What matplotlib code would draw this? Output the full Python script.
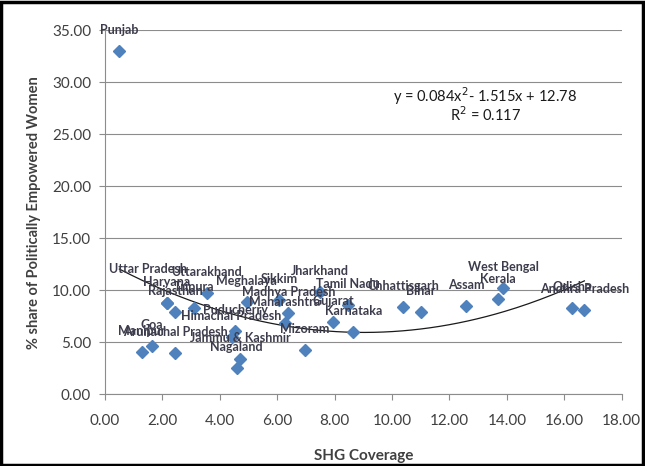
import matplotlib
matplotlib.use("Agg")
import matplotlib.pyplot as plt
import matplotlib.patches as mpatches
import numpy as np

plt.rcParams['font.family'] = ['Lato', 'DejaVu Sans']

states = ["Punjab", "Uttar Pradesh", "Uttarakhand", "Haryana", "Rajasthan", "Tripura",
          "Meghalaya", "Sikkim", "Jharkhand", "Madhya Pradesh", "Maharashtra", "Tamil Nadu",
          "Gujarat", "Karnataka", "Chhattisgarh", "Bihar", "Assam", "West Bengal", "Kerala",
          "Odisha", "Andhra Pradesh", "Puducherry", "Himachal Pradesh", "Goa", "Manipur",
          "Arunachal Pradesh", "Jammu & Kashmir", "Nagaland", "Mizoram"]
shg_coverage = [0.50, 2.17, 3.54, 2.15, 2.44, 3.11,
                4.94, 6.07, 7.49, 6.39, 6.27, 8.46,
                7.95, 8.65, 10.39, 11.00, 12.58, 13.88, 13.70,
                16.28, 16.70, 4.53, 4.41, 1.63, 1.28,
                2.44, 4.70, 4.59, 6.97]
women_share = [33.01, 8.80, 9.71, 8.75, 7.94, 8.27,
               8.90, 9.07, 9.87, 7.79, 6.83, 8.59,
               6.92, 5.96, 8.42, 7.94, 8.52, 10.19, 9.13,
               8.27, 8.11, 6.12, 5.54, 4.64, 4.04,
               3.94, 3.37, 2.50, 4.26]

# label offsets (points) from each marker; default is centered above
label_offsets = {"Uttar Pradesh": (-14, 24.5)}

# trendline coefficients as shown on the chart
coef_a, coef_b, coef_c = 0.084, -1.515, 12.78
r_squared = 0.117

x_ticks = [0, 2, 4, 6, 8, 10, 12, 14, 16, 18]
y_ticks = [0, 5, 10, 15, 20, 25, 30, 35]

fig = plt.figure(figsize=(6.45, 4.66), dpi=100)
ax = fig.add_axes([105/645, 71.7/466, (621.7-105)/645, (394.3-30.3)/466])

grid_c = '#8c8c8c'
text_c = '#404040'

ax.set_xlim(0, 18)
ax.set_ylim(0, 35)
ax.set_xticks(x_ticks)
ax.set_yticks(y_ticks)
ax.set_xticklabels([f"{v:.2f}" for v in x_ticks])
ax.set_yticklabels([f"{v:.2f}" for v in y_ticks])
ax.grid(axis='y', color=grid_c, lw=0.8, zorder=0)
ax.set_axisbelow(True)
for s in ['top', 'right']:
    ax.spines[s].set_visible(False)
for s in ['left', 'bottom']:
    ax.spines[s].set_color(grid_c)
    ax.spines[s].set_linewidth(0.8)
ax.tick_params(axis='both', direction='out', length=4, width=0.8, color=grid_c,
               labelsize=11, labelcolor=text_c)
ax.tick_params(axis='x', pad=10)
ax.tick_params(axis='y', pad=6)

# trendline
xs = np.linspace(min(shg_coverage), max(shg_coverage), 200)
ax.plot(xs, coef_a * xs**2 + coef_b * xs + coef_c, color='#1a1a1a', lw=0.9, zorder=2)

ax.plot(shg_coverage, women_share, ls='none', marker='D', ms=6.5,
        color='#4F81BD', mec='#4F81BD', zorder=3)

for name, xv, yv in zip(states, shg_coverage, women_share):
    ax.annotate(name, (xv, yv), xytext=label_offsets.get(name, (0, 15)),
                textcoords='offset points',
                ha='center', va='center', fontsize=9, fontweight='bold',
                color='#3c3c4c', zorder=4, annotation_clip=False)

ax.text(13.24, 28.7, "y = 0.084x$^{2}$- 1.515x + 12.78", ha='center', va='center',
        fontsize=10.5, color='#1a1a1a')
ax.text(13.24, 26.85, f"R$^{{2}}$ = {r_squared}", ha='center', va='center',
        fontsize=10.5, color='#1a1a1a')

ax.set_xlabel("SHG Coverage", fontsize=11, fontweight='bold', color=text_c, labelpad=15)
ax.set_ylabel("% share of Politically Empowered Women", fontsize=10.5, fontweight='bold',
              color=text_c, labelpad=8)

fig.patches.append(mpatches.Rectangle((0.002, 0.003), 0.995, 0.993, transform=fig.transFigure,
                                      fill=False, edgecolor='black', lw=2.5))

fig.savefig("out.png", dpi=100)
